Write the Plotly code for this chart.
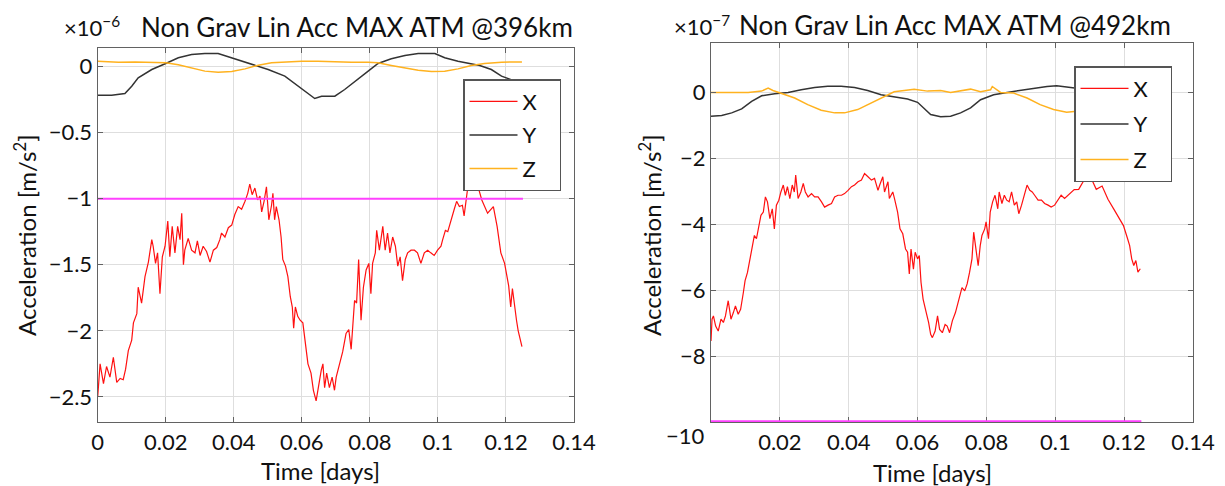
import plotly.graph_objects as go

# ---------------- data (acceleration, scaled units) ----------------
TICK_X = [0, 0.02, 0.04, 0.06, 0.08, 0.1, 0.12, 0.14]
TICK_X_TEXT_L = ["0", "0.02", "0.04", "0.06", "0.08", "0.1", "0.12", "0.14"]
TICK_X_TEXT_R = ["", "0.02", "0.04", "0.06", "0.08", "0.1", "0.12", "0.14"]
TICK_Y_L = [-2.5, -2, -1.5, -1, -0.5, 0]
TICK_Y_TEXT_L = ["\u22122.5", "\u22122", "\u22121.5", "\u22121", "\u22120.5", "0"]
TICK_Y_R = [-10, -8, -6, -4, -2, 0]
TICK_Y_TEXT_R = ["", "\u22128", "\u22126", "\u22124", "\u22122", "0"]

# Left panel (x1e-6 m/s^2), 396 km
L_X_T = [0, 0.0004, 0.0007, 0.0017, 0.0026, 0.0036, 0.0046, 0.0056, 0.0066, 0.0075,
         0.0082, 0.0090, 0.0100, 0.0105, 0.0115, 0.0119, 0.0129, 0.0139, 0.0149, 0.0159,
         0.0163, 0.0170, 0.0176, 0.0183, 0.0190, 0.0198, 0.0206, 0.0212, 0.0219, 0.0227,
         0.0235, 0.0242, 0.0247, 0.0252, 0.0256, 0.0266, 0.0276, 0.0286, 0.0293, 0.0301,
         0.0310, 0.0320, 0.0330, 0.0340, 0.0350, 0.0359, 0.0364, 0.0374, 0.0384, 0.0394,
         0.0403, 0.0413, 0.0423, 0.0433, 0.0441, 0.0447, 0.0454, 0.0462, 0.0470, 0.0477,
         0.0482, 0.0489, 0.0496, 0.0503, 0.0511, 0.0515, 0.0520, 0.0525, 0.0533, 0.0539,
         0.0544, 0.0552, 0.0559, 0.0566, 0.0572, 0.0576, 0.0581, 0.0588, 0.0595, 0.0603,
         0.0611, 0.0618, 0.0627, 0.0634, 0.0642, 0.0650, 0.0657, 0.0662, 0.0667, 0.0673,
         0.0681, 0.0689, 0.0696, 0.0701, 0.0711, 0.0720, 0.0730, 0.0738, 0.0745, 0.0750,
         0.0755, 0.0761, 0.0767, 0.0774, 0.0781, 0.0789, 0.0797, 0.0803, 0.0808, 0.0816,
         0.0820, 0.0828, 0.0838, 0.0845, 0.0852, 0.0859, 0.0867, 0.0875, 0.0882, 0.0889,
         0.0896, 0.0904, 0.0911, 0.0921, 0.0931, 0.0940, 0.0950, 0.0960, 0.0970, 0.0979,
         0.0989, 0.0999, 0.1009, 0.1014, 0.1022, 0.1029, 0.1038, 0.1048, 0.1055, 0.1063,
         0.1072, 0.1077, 0.1087, 0.1095, 0.1101, 0.1118, 0.1129, 0.1146, 0.1163, 0.1174,
         0.1185, 0.1196, 0.1208, 0.1214, 0.1219, 0.1225, 0.1231, 0.1236, 0.1241, 0.1247]
L_X_V = [-2.50, -2.30, -2.25, -2.40, -2.27, -2.35, -2.20, -2.39, -2.36, -2.37,
         -2.29, -2.15, -2.07, -1.94, -1.87, -1.67, -1.79, -1.59, -1.48, -1.31,
         -1.36, -1.49, -1.41, -1.72, -1.44, -1.36, -1.17, -1.44, -1.21, -1.41,
         -1.21, -1.31, -1.11, -1.50, -1.39, -1.30, -1.39, -1.41, -1.32, -1.43,
         -1.36, -1.40, -1.48, -1.39, -1.37, -1.31, -1.26, -1.29, -1.22, -1.20,
         -1.12, -1.06, -1.08, -1.02, -0.96, -0.89, -0.97, -0.92, -1.01, -0.98,
         -1.10, -1.02, -0.91, -1.16, -1.05, -0.96, -1.16, -1.06, -1.16, -1.29,
         -1.46, -1.51, -1.59, -1.74, -1.82, -1.98, -1.82, -1.89, -1.92, -1.94,
         -2.12, -2.25, -2.32, -2.45, -2.53, -2.40, -2.30, -2.25, -2.43, -2.32,
         -2.43, -2.35, -2.45, -2.35, -2.25, -2.16, -2.02, -1.99, -2.14, -1.92,
         -1.77, -1.79, -1.46, -1.92, -1.67, -1.54, -1.49, -1.72, -1.49, -1.41,
         -1.24, -1.39, -1.21, -1.39, -1.26, -1.41, -1.29, -1.36, -1.51, -1.44,
         -1.62, -1.46, -1.41, -1.39, -1.39, -1.41, -1.49, -1.41, -1.39, -1.41,
         -1.43, -1.39, -1.36, -1.31, -1.24, -1.25, -1.16, -1.08, -1.02, -1.06,
         -1.05, -1.13, -0.93, -0.91, -0.87, -0.91, -1.01, -1.11, -1.06, -1.21,
         -1.41, -1.49, -1.66, -1.82, -1.68, -1.82, -1.92, -2.00, -2.05, -2.12]
L_Y_T = [0, 0.0041, 0.0080, 0.0100, 0.0119, 0.0159, 0.0200, 0.0237, 0.0276, 0.0315,
         0.0354, 0.0394, 0.0433, 0.0462, 0.0501, 0.0550, 0.0589, 0.0619, 0.0638, 0.0658,
         0.0697, 0.0726, 0.0756, 0.0795, 0.0824, 0.0863, 0.0903, 0.0942, 0.0991, 0.1020,
         0.1059, 0.1098, 0.1123, 0.1157, 0.1187, 0.1215, 0.1250]
L_Y_V = [-0.217, -0.217, -0.205, -0.149, -0.086, -0.023, 0.023, 0.066, 0.091, 0.098,
         0.098, 0.066, 0.033, 0.008, -0.023, -0.073, -0.149, -0.212, -0.242, -0.225,
         -0.225, -0.174, -0.111, -0.035, 0.023, 0.058, 0.083, 0.098, 0.098, 0.066,
         0.040, 0.023, 0.008, -0.023, -0.073, -0.100, -0.130]
L_Z_T = [0, 0.0061, 0.0110, 0.0159, 0.0200, 0.0237, 0.0276, 0.0315, 0.0354, 0.0394,
         0.0433, 0.0472, 0.0511, 0.0550, 0.0599, 0.0648, 0.0697, 0.0746, 0.0795, 0.0824,
         0.0863, 0.0903, 0.0942, 0.0981, 0.1020, 0.1059, 0.1098, 0.1137, 0.1187, 0.1247]
L_Z_V = [0.040, 0.033, 0.035, 0.033, 0.028, 0.013, -0.013, -0.035, -0.043, -0.038,
         -0.018, 0.010, 0.028, 0.035, 0.040, 0.040, 0.035, 0.033, 0.033, 0.028,
         0.008, -0.013, -0.028, -0.038, -0.035, -0.018, 0.008, 0.023, 0.033, 0.035]
L_LIMIT_T = [0, 0.125]
L_LIMIT_V = [-1, -1]

# Right panel (x1e-7 m/s^2), 492 km
R_X_T = [0, 0.0003, 0.0007, 0.00135, 0.0021, 0.0029, 0.0036, 0.0042, 0.0050, 0.0058,
         0.0065, 0.0071, 0.0079, 0.0086, 0.0094, 0.0099, 0.0106, 0.0113, 0.0120, 0.0126,
         0.0132, 0.0139, 0.0145, 0.0152, 0.0158, 0.0164, 0.0171, 0.0178, 0.0184, 0.0190,
         0.0197, 0.0203, 0.0210, 0.0216, 0.0222, 0.0229, 0.0236, 0.0242, 0.0246, 0.0253,
         0.0261, 0.0268, 0.0274, 0.0282, 0.0292, 0.0301, 0.0311, 0.0321, 0.0330, 0.0340,
         0.0350, 0.0359, 0.0369, 0.0379, 0.0388, 0.0398, 0.0408, 0.0417, 0.0427, 0.0437,
         0.0446, 0.0456, 0.0466, 0.0475, 0.0485, 0.0490, 0.0499, 0.0504, 0.0514, 0.0518,
         0.0528, 0.0533, 0.0542, 0.0549, 0.0557, 0.0565, 0.0571, 0.0576, 0.0581, 0.0588,
         0.0593, 0.0600, 0.0605, 0.0610, 0.0616, 0.0624, 0.0632, 0.0638, 0.0643, 0.0651,
         0.0658, 0.0664, 0.0672, 0.0680, 0.0686, 0.0693, 0.0701, 0.0710, 0.0720, 0.0729,
         0.0737, 0.0744, 0.0751, 0.0758, 0.0763, 0.0770, 0.0776, 0.0782, 0.0787, 0.0795,
         0.0799, 0.0806, 0.0811, 0.0818, 0.0825, 0.0833, 0.0837, 0.0845, 0.0852, 0.0859,
         0.0866, 0.0873, 0.0881, 0.0888, 0.0894, 0.0902, 0.0910, 0.0918, 0.0926, 0.0933,
         0.0940, 0.0950, 0.0960, 0.0969, 0.0979, 0.0988, 0.0998, 0.1008, 0.1017, 0.1027,
         0.1040, 0.1055, 0.1068, 0.1085, 0.1102, 0.1119, 0.1136, 0.1153, 0.1170, 0.1181,
         0.1198, 0.1210, 0.1216, 0.1222, 0.1228, 0.1234, 0.1240, 0.1247]
R_X_V = [-7.54, -6.88, -6.78, -7.09, -7.24, -6.88, -6.98, -6.78, -6.32, -6.88,
         -6.68, -6.48, -6.73, -6.58, -6.07, -5.71, -5.46, -5.05, -4.65, -4.34,
         -4.44, -4.03, -3.73, -3.63, -3.17, -3.32, -3.83, -3.53, -4.14, -3.42,
         -3.27, -3.02, -2.81, -3.12, -2.86, -3.22, -2.81, -3.02, -2.51, -3.22,
         -3.02, -2.76, -3.02, -3.17, -3.07, -3.17, -3.17, -3.32, -3.48, -3.42,
         -3.37, -3.17, -3.12, -3.12, -3.07, -2.97, -2.86, -2.81, -2.71, -2.66,
         -2.46, -2.56, -2.66, -2.61, -2.97, -2.81, -2.56, -3.02, -2.71, -3.22,
         -3.02, -3.22, -3.63, -4.14, -4.29, -4.75, -4.85, -5.51, -4.75, -5.36,
         -4.85, -5.05, -4.95, -5.76, -6.27, -6.63, -6.98, -7.34, -7.44, -7.24,
         -6.78, -7.19, -7.29, -7.04, -7.09, -7.29, -6.93, -6.68, -6.27, -5.92,
         -6.02, -5.81, -5.46, -5.05, -4.24, -4.85, -5.26, -4.65, -4.34, -4.14,
         -3.93, -4.44, -3.63, -3.32, -3.12, -3.53, -3.02, -3.37, -3.12, -3.27,
         -3.32, -3.02, -3.42, -3.32, -3.68, -3.42, -3.07, -2.81, -2.97, -3.02,
         -3.12, -3.27, -3.27, -3.37, -3.42, -3.48, -3.42, -3.27, -3.12, -3.22,
         -3.10, -2.95, -2.94, -2.63, -2.55, -2.94, -2.84, -3.24, -3.54, -3.74,
         -4.04, -4.44, -4.65, -5.05, -5.25, -5.10, -5.45, -5.35]
R_Y_T = [0, 0.0031, 0.0060, 0.0089, 0.0118, 0.0147, 0.0185, 0.0224, 0.0262, 0.0301,
         0.0339, 0.0378, 0.0417, 0.0455, 0.0494, 0.0532, 0.0571, 0.0600, 0.0619, 0.0638,
         0.0667, 0.0696, 0.0725, 0.0754, 0.0783, 0.0821, 0.0860, 0.0898, 0.0937, 0.0976,
         0.1004, 0.1033, 0.1062, 0.1100, 0.1250]
R_Y_V = [-0.72, -0.70, -0.62, -0.50, -0.27, -0.10, -0.04, 0.00, 0.08, 0.15,
         0.19, 0.19, 0.15, 0.06, -0.07, -0.14, -0.20, -0.30, -0.50, -0.67,
         -0.74, -0.72, -0.62, -0.47, -0.22, -0.07, 0.00, 0.06, 0.10, 0.18,
         0.20, 0.16, 0.13, 0.10, -0.10]
R_Z_T = [0, 0.0108, 0.0147, 0.0166, 0.0180, 0.0204, 0.0243, 0.0281, 0.0320, 0.0359,
         0.0388, 0.0426, 0.0465, 0.0503, 0.0532, 0.0561, 0.0590, 0.0629, 0.0667, 0.0696,
         0.0725, 0.0754, 0.0783, 0.0812, 0.0817, 0.0841, 0.0879, 0.0918, 0.0956, 0.0995,
         0.1033, 0.1062, 0.1100, 0.1250]
R_Z_V = [0, 0, 0.04, 0.13, 0.06, -0.02, -0.17, -0.37, -0.54, -0.62,
         -0.62, -0.52, -0.32, -0.12, 0.02, 0.06, 0.10, 0.04, 0.06, 0,
         0.06, 0.10, 0.02, 0.08, 0.18, 0, -0.02, -0.17, -0.37, -0.52,
         -0.60, -0.57, -0.60, -0.60]
R_LIMIT_T = [0, 0.125]
R_LIMIT_V = [-10, -10]

SERIES = ["X", "Y", "Z"]
TITLE_L = "Non Grav Lin Acc MAX ATM @396km"
TITLE_R = "Non Grav Lin Acc MAX ATM @492km"
EXP_L = "\u00d710<sup>\u22126</sup>"
EXP_R = "\u00d710<sup>\u22127</sup>"

# ---------------- style ----------------
W, H = 1225, 486
OFF = 8  # default page body margin
FONT = "Lato"
C_X, C_Y, C_Z, C_LIM = "#ff1010", "#333333", "#ffb21f", "#ff40ff"
FRAME = "#626262"
PAD = "\u00a0" * 3


def px(x):
    return (x - OFF) / W


def py(y):
    return 1 - (y - OFF) / H


fig = go.Figure()

panels = [
    ("x", "y", "legend", L_X_T, L_X_V, L_Y_T, L_Y_V, L_Z_T, L_Z_V, L_LIMIT_T, L_LIMIT_V),
    ("x2", "y2", "legend2", R_X_T, R_X_V, R_Y_T, R_Y_V, R_Z_T, R_Z_V, R_LIMIT_T, R_LIMIT_V),
]
for xa, ya, lg, xt, xv, yt, yv, zt, zv, lt, lv in panels:
    for name, t, v, c, w in [(SERIES[0], xt, xv, C_X, 1.2), (SERIES[1], yt, yv, C_Y, 1.5),
                             (SERIES[2], zt, zv, C_Z, 1.5)]:
        fig.add_trace(go.Scatter(x=t, y=v, mode="lines", name=name + PAD, xaxis=xa, yaxis=ya,
                                 line=dict(color=c, width=w), legend=lg,
                                 legendgroup=lg + name))
    fig.add_trace(go.Scatter(x=lt, y=lv, mode="lines", xaxis=xa, yaxis=ya,
                             line=dict(color=C_LIM, width=2 if xa == "x" else 3.5),
                             showlegend=False))

axis_common = dict(showline=True, linecolor=FRAME, linewidth=1.3, mirror="ticks",
                   ticks="inside", ticklen=5, tickcolor=FRAME, showgrid=True,
                   gridcolor="#dedede", gridwidth=1, zeroline=False, automargin=False,
                   tickfont=dict(family=FONT, size=22, color="#111"))

fig.update_layout(
    width=W, height=H, margin=dict(l=0, r=0, t=0, b=0, autoexpand=False),
    paper_bgcolor="white", plot_bgcolor="white",
    xaxis=dict(domain=[px(97.7), px(574)], range=[0, 0.14], tickvals=TICK_X,
               ticktext=TICK_X_TEXT_L, anchor="y", **axis_common),
    yaxis=dict(domain=[py(422), py(48)], range=[-2.69, 0.14], tickvals=TICK_Y_L,
               ticktext=TICK_Y_TEXT_L, anchor="x", **axis_common),
    xaxis2=dict(domain=[px(711), px(1193)], range=[0, 0.14], tickvals=TICK_X,
                ticktext=TICK_X_TEXT_R, anchor="y2", layer="below traces", **axis_common),
    yaxis2=dict(domain=[py(422), py(43)], range=[-10, 1.5], tickvals=TICK_Y_R,
                ticktext=TICK_Y_TEXT_R, anchor="x2", **axis_common),
    legend=dict(x=px(463), y=py(79), xanchor="left", yanchor="top",
                bgcolor="white", bordercolor="#555", borderwidth=1.5,
                font=dict(family=FONT, size=22, color="#111"), tracegroupgap=2,
                itemwidth=48),
    legend2=dict(x=px(1074), y=py(66), xanchor="left", yanchor="top",
                 bgcolor="white", bordercolor="#555", borderwidth=1.5,
                 font=dict(family=FONT, size=22, color="#111"), tracegroupgap=4,
                 itemwidth=48),
)

ann = [
    dict(text=EXP_L, x=px(62), y=py(27), xanchor="left", yanchor="middle", size=22),
    dict(text=TITLE_L, x=px(139), y=py(27), xanchor="left", yanchor="middle", size=26),
    dict(text=EXP_R, x=px(672), y=py(25), xanchor="left", yanchor="middle", size=22),
    dict(text=TITLE_R, x=px(737), y=py(25), xanchor="left", yanchor="middle", size=26),
    dict(text="Time [days]", x=px(320), y=py(470), xanchor="center", yanchor="middle", size=24),
    dict(text="Time [days]", x=px(932), y=py(472), xanchor="center", yanchor="middle", size=24),
    dict(text="\u221210", x=px(707), y=py(435), xanchor="right", yanchor="middle", size=22),
]
for a in ann:
    fig.add_annotation(text=a["text"], x=a["x"], y=a["y"], xref="paper", yref="paper",
                       xanchor=a["xanchor"], yanchor=a["yanchor"], showarrow=False,
                       font=dict(family=FONT, size=a["size"], color="#111"))
for xc in (25, 650):
    fig.add_annotation(text="Acceleration [m/s<sup>2</sup>]", x=px(xc), y=py(235),
                       xref="paper", yref="paper", textangle=-90, showarrow=False,
                       xanchor="center", yanchor="middle",
                       font=dict(family=FONT, size=24, color="#111"))

fig.write_html("out.html")
